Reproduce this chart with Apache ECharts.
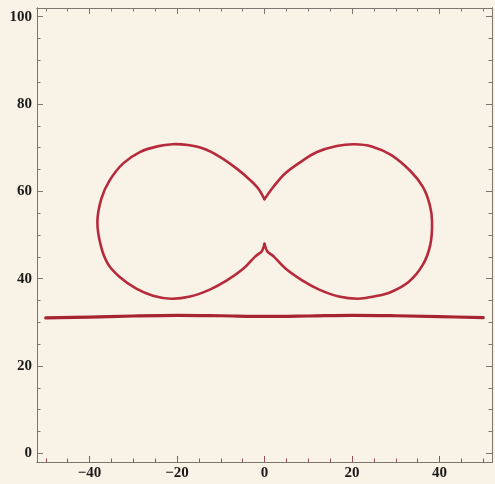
<!DOCTYPE html>
<html>
<head>
<meta charset="utf-8">
<script src="https://cdn.jsdelivr.net/npm/echarts@6/dist/echarts.min.js"></script>
<style>
  html, body { margin: 0; padding: 0; background: #f9f2e6; }
  #chart { width: 495px; height: 484px; }
</style>
</head>
<body>
<div id="chart"></div>
<script>
// Left lobe: from the upper pinch, round the left side, to the lower pinch
const leftLobe = [
  [0.0, 58.2], [-1.4, 60.6], [-3.3, 62.6], [-6.35, 65.2], [-10.2, 67.9],
  [-14.0, 69.8], [-17.5, 70.6], [-21.0, 70.8], [-24.5, 70.3], [-28.5, 69.0],
  [-32.3, 66.4], [-35.4, 62.5], [-37.3, 58.3], [-38.2, 53.0],
  [-37.4, 47.5], [-35.8, 43.4], [-33.1, 40.4], [-29.3, 37.7], [-25.5, 36.1],
  [-21.3, 35.4], [-17.0, 35.9], [-12.5, 37.5], [-8.6, 39.6], [-4.8, 42.3],
  [-2.2, 45.0], [-0.6, 46.3], [0.0, 48.0]
];

// Right lobe: from the lower pinch, round the right side, back to the upper pinch
const rightLobe = [
  [0.0, 48.0], [0.6, 46.3], [2.2, 45.0], [4.8, 42.3], [8.6, 39.6], [12.5, 37.5],
  [17.0, 35.9], [21.3, 35.4], [25.0, 35.9], [28.8, 36.9], [33.0, 39.3],
  [36.2, 43.2], [37.9, 47.8], [38.3, 53.0], [37.8, 56.8], [36.2, 61.0],
  [33.4, 64.6], [29.0, 68.3], [24.5, 70.3], [20.5, 70.8], [16.5, 70.4],
  [12.0, 69.0], [8.2, 66.7], [4.7, 64.1], [2.0, 61.0], [0.0, 58.2]
];

// Nearly flat baseline below the curve
const baseX = [-50, -40, -30, -20, -10, 0, 10, 20, 30, 40, 50];
const baseY = [31.0, 31.2, 31.45, 31.6, 31.5, 31.35, 31.45, 31.6, 31.5, 31.3, 31.05];

// Axis ranges and ticks
const xRange = [-52, 52];
const yRange = [-2, 102];
const xMajor = [-40, -20, 0, 20, 40];
const xMinor = [-50, -45, -40, -35, -30, -25, -20, -15, -10, -5, 0, 5, 10, 15, 20, 25, 30, 35, 40, 45, 50];
const yMajor = [0, 20, 40, 60, 80, 100];
const yMinor = [0, 5, 10, 15, 20, 25, 30, 35, 40, 45, 50, 55, 60, 65, 70, 75, 80, 85, 90, 95, 100];

const frameColor = '#7d7670';
const bottomTickColor = '#9a4f58';
const curveColor = '#b62b3c';
const baseColor = '#a6232f';
const labelFont = { fontFamily: 'Liberation Serif', fontSize: 15, fontWeight: 'bold', color: '#1c1a18' };

function fmt(v) {
  return v < 0 ? '\u2212' + Math.abs(v) : String(v);
}

function makeAxis(range, position, ticks, tickLen, tickColor, labels) {
  return {
    type: 'value',
    position: position,
    min: range[0],
    max: range[1],
    axisLine: { show: true, onZero: false, lineStyle: { color: frameColor, width: 1 } },
    axisTick: {
      show: true, inside: true, length: tickLen, customValues: ticks,
      lineStyle: { color: tickColor, width: 1 }
    },
    axisLabel: labels ? Object.assign({
      show: true, customValues: ticks, formatter: fmt, margin: labels
    }, labelFont) : { show: false },
    splitLine: { show: false },
    minorTick: { show: false }
  };
}

// Smooth open path through pixel points (Catmull-Rom as cubic Beziers);
// the end points are kept sharp so the two lobes meet in pinched tips.
function splinePath(pts) {
  let d = 'M' + pts[0][0] + ' ' + pts[0][1];
  for (let i = 0; i < pts.length - 1; i++) {
    const p0 = pts[Math.max(i - 1, 0)];
    const p1 = pts[i];
    const p2 = pts[i + 1];
    const p3 = pts[Math.min(i + 2, pts.length - 1)];
    const c1x = p1[0] + (p2[0] - p0[0]) / 6;
    const c1y = p1[1] + (p2[1] - p0[1]) / 6;
    const c2x = p2[0] - (p3[0] - p1[0]) / 6;
    const c2y = p2[1] - (p3[1] - p1[1]) / 6;
    d += ' C' + c1x + ' ' + c1y + ' ' + c2x + ' ' + c2y + ' ' + p2[0] + ' ' + p2[1];
  }
  return d;
}

function curveSeries(points, color, width) {
  return {
    type: 'custom',
    coordinateSystem: 'cartesian2d',
    xAxisIndex: 0,
    yAxisIndex: 0,
    silent: true,
    clip: false,
    data: points,
    renderItem: function (params, api) {
      // draw the whole path once, with the first data item
      if (params.dataIndex !== 0) return null;
      const px = points.map(p => api.coord(p));
      return {
        type: 'path',
        shape: { pathData: splinePath(px) },
        style: { fill: null, stroke: color, lineWidth: width, lineJoin: 'round', lineCap: 'round' }
      };
    }
  };
}

const chart = echarts.init(document.getElementById('chart'), null, { renderer: 'canvas' });

chart.setOption({
  backgroundColor: '#f9f2e6',
  animation: false,
  grid: { left: 37, right: 3, top: 8, bottom: 22, containLabel: false },
  xAxis: [
    makeAxis(xRange, 'bottom', xMajor, 6, bottomTickColor, 4),
    makeAxis(xRange, 'bottom', xMinor, 3.5, bottomTickColor, 0),
    makeAxis(xRange, 'top', xMajor, 6, frameColor, 0),
    makeAxis(xRange, 'top', xMinor, 3.5, frameColor, 0)
  ],
  yAxis: [
    makeAxis(yRange, 'left', yMajor, 6, frameColor, 5),
    makeAxis(yRange, 'left', yMinor, 3.5, frameColor, 0),
    makeAxis(yRange, 'right', yMajor, 6, frameColor, 0),
    makeAxis(yRange, 'right', yMinor, 3.5, frameColor, 0)
  ],
  series: [
    curveSeries(baseX.map((x, i) => [x, baseY[i]]), baseColor, 3.2),
    curveSeries(leftLobe, curveColor, 2.6),
    curveSeries(rightLobe, curveColor, 2.6)
  ]
});
</script>
</body>
</html>
